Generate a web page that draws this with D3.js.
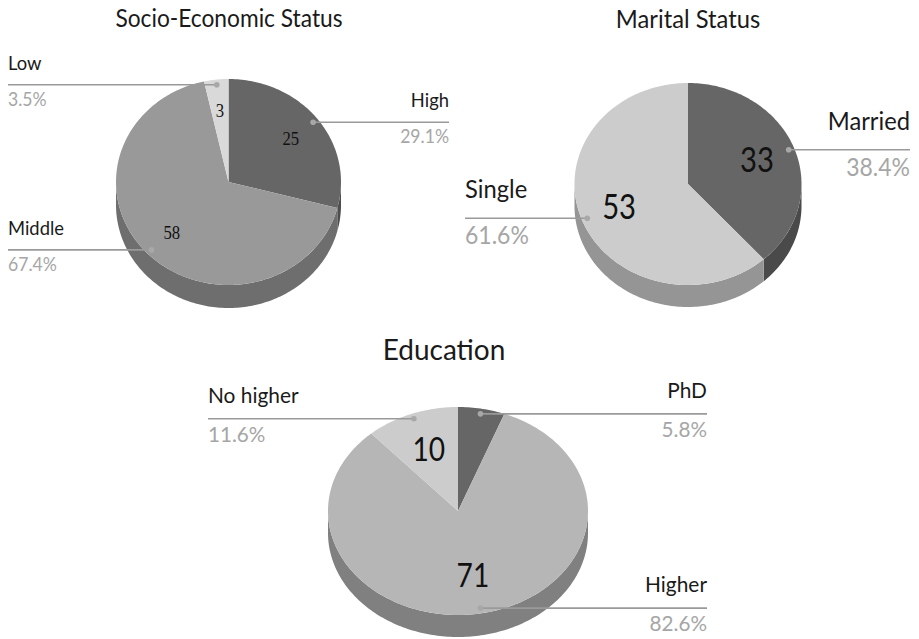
<!DOCTYPE html>
<html>
<head>
<meta charset="utf-8">
<script src="https://cdn.jsdelivr.net/npm/d3@7"></script>
<style>
  body { margin: 0; background: #fff; }
  text { font-family: Lato, "Open Sans", sans-serif; }
</style>
</head>
<body>
<svg id="chart" width="919" height="639"></svg>
<script>
// Socio-economic status
const sesTitle = "Socio-Economic Status";
const sesCategories = ["High", "Middle", "Low"];
const sesValues = [25, 58, 3];

// Marital status
const maritalTitle = "Marital Status";
const maritalCategories = ["Married", "Single"];
const maritalValues = [33, 53];

// Education
const eduTitle = "Education";
const eduCategories = ["PhD", "Higher", "No higher"];
const eduValues = [5, 71, 10];

const svg = d3.select("#chart");
const pct = d3.format(".1%");

function addText(g, x, y, str, opts) {
  return g.append("text")
    .attr("transform", `translate(${x},${y}) scale(${opts.sx},1)`)
    .attr("text-anchor", opts.anchor || "start")
    .attr("font-size", opts.size)
    .attr("fill", opts.fill || "#1a1a1a")
    .style("font-family", opts.family || null)
    .text(str);
}

function pie3d(cfg) {
  const g = svg.append("g");
  const { cx, cy, rx, ry, depth } = cfg;
  const total = d3.sum(cfg.values);
  const arcs = d3.pie().sort(null).value(d => d)(cfg.values);
  const pt = (a, f = 1, dy = 0) => [cx + rx * f * Math.sin(a), cy - ry * f * Math.cos(a) + dy];
  const steps = (a0, a1) => {
    const n = Math.max(2, Math.ceil(Math.abs(a1 - a0) / 0.02));
    return d3.range(n + 1).map(i => a0 + (a1 - a0) * i / n);
  };

  // side wall, visible on the front half only
  arcs.forEach((d, i) => {
    const a0 = Math.max(d.startAngle, Math.PI / 2);
    const a1 = Math.min(d.endAngle, 3 * Math.PI / 2);
    if (a1 <= a0) return;
    const p = d3.path();
    const top = steps(a0, a1).map(a => pt(a));
    const bot = steps(a1, a0).map(a => pt(a, 1, depth));
    top.forEach((q, k) => k ? p.lineTo(q[0], q[1]) : p.moveTo(q[0], q[1]));
    bot.forEach(q => p.lineTo(q[0], q[1]));
    p.closePath();
    g.append("path").attr("d", p.toString()).attr("fill", cfg.sideColors[i]);
  });

  // top faces
  arcs.forEach((d, i) => {
    const p = d3.path();
    p.moveTo(cx, cy);
    steps(d.startAngle, d.endAngle).forEach(a => { const q = pt(a); p.lineTo(q[0], q[1]); });
    p.closePath();
    g.append("path").attr("d", p.toString()).attr("fill", cfg.colors[i]);
  });

  // counts inside slices
  arcs.forEach((d, i) => {
    if (!cfg.showCount[i]) return;
    const mid = (d.startAngle + d.endAngle) / 2;
    const q = pt(mid, cfg.countR);
    addText(g, q[0], q[1], d.data, { size: cfg.countSize, anchor: "middle", family: cfg.countFont, fill: "#111", sx: cfg.countSx })
      .attr("dy", "0.35em");
  });

  // callout labels
  arcs.forEach((d, i) => {
    const mid = (d.startAngle + d.endAngle) / 2;
    const q = pt(mid, 0.95);
    const side = cfg.sides[i];
    const edge = side === "left" ? cfg.leftX : cfg.rightX;
    g.append("line")
      .attr("x1", edge).attr("x2", q[0]).attr("y1", q[1]).attr("y2", q[1])
      .attr("stroke", "#9a9a9a").attr("stroke-width", 1.6);
    g.append("circle").attr("cx", q[0]).attr("cy", q[1]).attr("r", 2.8).attr("fill", "#a8a8a8");
    const anchor = side === "left" ? "start" : "end";
    addText(g, edge, q[1] - cfg.labelUp, cfg.categories[i], { size: cfg.labelSize, anchor, sx: cfg.labelSx });
    addText(g, edge, q[1] + cfg.pctDown, pct(d.data / total), { size: cfg.labelSize, anchor, fill: "#a6a6a6", sx: cfg.pctSx });
  });

  addText(g, cfg.titleX, cfg.titleY, cfg.title, { size: cfg.titleSize, anchor: "middle", fill: "#1a1a1a", sx: cfg.titleSx });
}

pie3d({
  title: sesTitle, categories: sesCategories, values: sesValues,
  cx: 228.5, cy: 182, rx: 112.5, ry: 103, depth: 23,
  colors: ["#666666", "#999999", "#d9d9d9"],
  sideColors: ["#4d4d4d", "#6e6e6e", "#a6a6a6"],
  showCount: [true, true, true], countR: 0.7, countSize: 19, countSx: 0.88, countFont: "'Liberation Serif', serif",
  sides: ["right", "left", "left"], leftX: 8, rightX: 449,
  labelSize: 20, labelUp: 15, pctDown: 21, labelSx: 0.92, pctSx: 0.88,
  titleX: 229, titleY: 27, titleSize: 25, titleSx: 0.91
});

pie3d({
  title: maritalTitle, categories: maritalCategories, values: maritalValues,
  cx: 688, cy: 184, rx: 113.5, ry: 101, depth: 22,
  colors: ["#666666", "#cccccc"],
  sideColors: ["#4a4a4a", "#959595"],
  showCount: [true, true], countR: 0.65, countSize: 34, countSx: 0.86,
  sides: ["right", "left"], leftX: 465, rightX: 910,
  labelSize: 25, labelUp: 20, pctDown: 26, labelSx: 0.95, pctSx: 0.92,
  titleX: 688, titleY: 28, titleSize: 25, titleSx: 0.95
});

pie3d({
  title: eduTitle, categories: eduCategories, values: eduValues,
  cx: 458, cy: 511, rx: 130, ry: 104, depth: 22,
  colors: ["#666666", "#b6b6b6", "#cccccc"],
  sideColors: ["#4a4a4a", "#808080", "#999999"],
  showCount: [false, true, true], countR: 0.63, countSize: 32, countSx: 0.88,
  sides: ["right", "right", "left"], leftX: 208, rightX: 707,
  labelSize: 22, labelUp: 16, pctDown: 23, labelSx: 0.95, pctSx: 0.94,
  titleX: 444, titleY: 360, titleSize: 28, titleSx: 1.0
});
</script>
</body>
</html>
